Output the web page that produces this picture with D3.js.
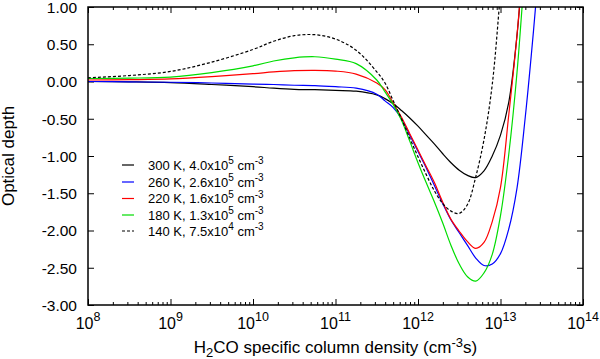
<!DOCTYPE html>
<html><head><meta charset="utf-8">
<script src="https://cdn.jsdelivr.net/npm/d3@7/dist/d3.min.js"></script>
<style>
body{margin:0;background:#fff}
svg{display:block}
text{font-family:"Liberation Sans",Arial,Helvetica,sans-serif;fill:#000}
</style>
</head><body>
<svg id="chart" width="600" height="359"></svg>
<script>
// log10 of H2CO specific column density (cm^-3 s)
const logColumnDensity = [8.0, 8.5, 9.0, 9.5, 10.0, 10.25, 10.5, 10.75, 11.0, 11.25, 11.5, 11.6, 11.7, 11.8, 11.9, 12.0, 12.1, 12.2, 12.3, 12.4, 12.5, 12.6, 12.7, 12.8, 12.9, 13.0, 13.1, 13.2, 13.3, 13.4, 13.5];

// optical depth per model
const tau300K = [0.00, -0.005, -0.015, -0.04, -0.07, -0.09, -0.105, -0.11, -0.12, -0.13, -0.18, -0.23, -0.30, -0.39, -0.49, -0.60, -0.72, -0.84, -0.97, -1.09, -1.19, -1.26, -1.29, -1.20, -1.00, -0.72, -0.28, 0.62, 2.0, 3.5, 5.0];
const tau260K = [0.00, -0.005, -0.01, -0.02, -0.034, -0.04, -0.05, -0.055, -0.07, -0.09, -0.17, -0.26, -0.35, -0.50, -0.72, -0.94, -1.16, -1.40, -1.64, -1.86, -2.03, -2.20, -2.37, -2.47, -2.45, -2.31, -1.98, -1.43, -0.48, 0.68, 2.0];
const tau220K = [0.02, 0.025, 0.035, 0.065, 0.105, 0.128, 0.145, 0.15, 0.14, 0.10, -0.02, -0.11, -0.29, -0.48, -0.70, -0.92, -1.14, -1.36, -1.62, -1.85, -2.01, -2.15, -2.24, -2.16, -1.88, -1.42, -0.45, 0.62, 2.0, 3.5, 5.0];
const tau180K = [0.04, 0.045, 0.06, 0.12, 0.21, 0.275, 0.318, 0.332, 0.30, 0.24, 0.02, -0.14, -0.31, -0.52, -0.80, -1.09, -1.36, -1.62, -1.90, -2.20, -2.45, -2.62, -2.68, -2.57, -2.32, -1.80, -0.98, 0.12, 1.6, 3.2, 5.0];
const tau140K = [0.05, 0.08, 0.135, 0.26, 0.43, 0.54, 0.615, 0.628, 0.57, 0.42, 0.13, -0.02, -0.26, -0.50, -0.76, -1.01, -1.25, -1.47, -1.64, -1.74, -1.77, -1.65, -1.28, -0.78, -0.04, 1.2, 2.5, 4.0, 5.5, 7.0, 8.5];

// legend text
const temperatures = ["300 K", "260 K", "220 K", "180 K", "140 K"];
const densityMantissa = ["4.0", "2.6", "1.6", "1.3", "7.5"];
const densityExponent = ["5", "5", "5", "5", "4"];

// ticks
const xTickExponents = [8, 9, 10, 11, 12, 13, 14];
const yTickValues = [1, 0.5, 0, -0.5, -1, -1.5, -2, -2.5, -3];

const seriesData = [tau300K, tau260K, tau220K, tau180K, tau140K];
const seriesColors = ["#000000", "#0000ff", "#ff0000", "#00dd00", "#000000"];
const seriesDash = [null, null, null, null, "3,2"];

const svg = d3.select("#chart");
const L = 88, R = 583, T = 7, B = 305;

const x = d3.scaleLog().domain([1e8, 1e14]).range([L, R]);
const y = d3.scaleLinear().domain([-3, 1]).range([B, T]);

const majorX = xTickExponents.map(e => Math.pow(10, e));
const minorX = [];
xTickExponents.slice(0, -1).forEach(e => { for (let k = 2; k <= 9; k++) minorX.push(k * Math.pow(10, e)); });

function styleAxis(g) {
  g.select(".domain").remove();
  g.selectAll(".tick line").attr("stroke", "#000").attr("stroke-width", 1);
}

// bottom axis
svg.append("g").attr("transform", `translate(0,${B})`)
  .call(d3.axisBottom(x).tickValues(majorX).tickSize(-6).tickFormat("")).call(styleAxis);
svg.append("g").attr("transform", `translate(0,${B})`)
  .call(d3.axisBottom(x).tickValues(minorX).tickSize(-3).tickFormat("")).call(styleAxis);
// top axis
svg.append("g").attr("transform", `translate(0,${T})`)
  .call(d3.axisTop(x).tickValues(majorX).tickSize(-6).tickFormat("")).call(styleAxis);
svg.append("g").attr("transform", `translate(0,${T})`)
  .call(d3.axisTop(x).tickValues(minorX).tickSize(-3).tickFormat("")).call(styleAxis);
// left axis
const gy = svg.append("g").attr("transform", `translate(${L},0)`)
  .call(d3.axisLeft(y).tickValues(yTickValues).tickSize(-6).tickPadding(11).tickFormat(d => d.toFixed(2)))
  .call(styleAxis);
gy.attr("font-family", null).attr("font-size", null);
gy.selectAll("text").attr("font-size", 15.5).attr("fill", "#000").attr("dy", "0.34em");
// right axis
svg.append("g").attr("transform", `translate(${R},0)`)
  .call(d3.axisRight(y).tickValues(yTickValues).tickSize(-6).tickFormat("")).call(styleAxis);

// x tick labels with superscripts
const xl = svg.append("g").selectAll("text").data(xTickExponents).join("text")
  .attr("x", e => x(Math.pow(10, e))).attr("y", 328.5)
  .attr("text-anchor", "middle").attr("font-size", 16);
xl.append("tspan").text("10");
xl.append("tspan").attr("dy", -7.5).attr("font-size", 12.5).text(e => e);

// clip
svg.append("clipPath").attr("id", "plotclip").append("rect")
  .attr("x", L).attr("y", T).attr("width", R - L).attr("height", B - T);

const line = d3.line()
  .x((d, i) => x(Math.pow(10, logColumnDensity[i])))
  .y(d => y(d))
  .curve(d3.curveCatmullRom.alpha(0.5));

const plot = svg.append("g").attr("clip-path", "url(#plotclip)");
seriesData.forEach((s, k) => {
  plot.append("path").datum(s)
    .attr("d", line)
    .attr("fill", "none")
    .attr("stroke", seriesColors[k])
    .attr("stroke-width", 1.2)
    .attr("stroke-dasharray", seriesDash[k]);
});

// border
svg.append("rect").attr("x", L).attr("y", T).attr("width", R - L).attr("height", B - T)
  .attr("fill", "none").attr("stroke", "#000").attr("stroke-width", 1.5);

// legend
const legendRows = [165, 182, 198.5, 215, 231];
const lg = svg.append("g");
temperatures.forEach((t, k) => {
  const ry = legendRows[k];
  lg.append("line").attr("x1", 122).attr("x2", 134).attr("y1", ry).attr("y2", ry)
    .attr("stroke", seriesColors[k]).attr("stroke-width", 1.2)
    .attr("stroke-dasharray", seriesDash[k]);
  const tx = lg.append("text").attr("x", 148).attr("y", ry + 4.6).attr("font-size", 13);
  tx.append("tspan").text(`${t}, ${densityMantissa[k]}x10`);
  tx.append("tspan").attr("dy", -5.5).attr("font-size", 10).text(densityExponent[k]);
  tx.append("tspan").attr("dy", 5.5).text(" cm");
  tx.append("tspan").attr("dy", -5.5).attr("font-size", 10).text("-3");
});

// axis titles
const xt = svg.append("text").attr("x", (L + R) / 2).attr("y", 353)
  .attr("text-anchor", "middle").attr("font-size", 17);
xt.append("tspan").text("H");
xt.append("tspan").attr("dy", 3.5).attr("font-size", 13).text("2");
xt.append("tspan").attr("dy", -3.5).text("CO specific column density (cm");
xt.append("tspan").attr("dy", -6.5).attr("font-size", 13).text("-3");
xt.append("tspan").attr("dy", 6.5).text("s)");

svg.append("text").attr("transform", `translate(14,${(T + B) / 2}) rotate(-90)`)
  .attr("text-anchor", "middle").attr("font-size", 17).text("Optical depth");
</script>
</body></html>
